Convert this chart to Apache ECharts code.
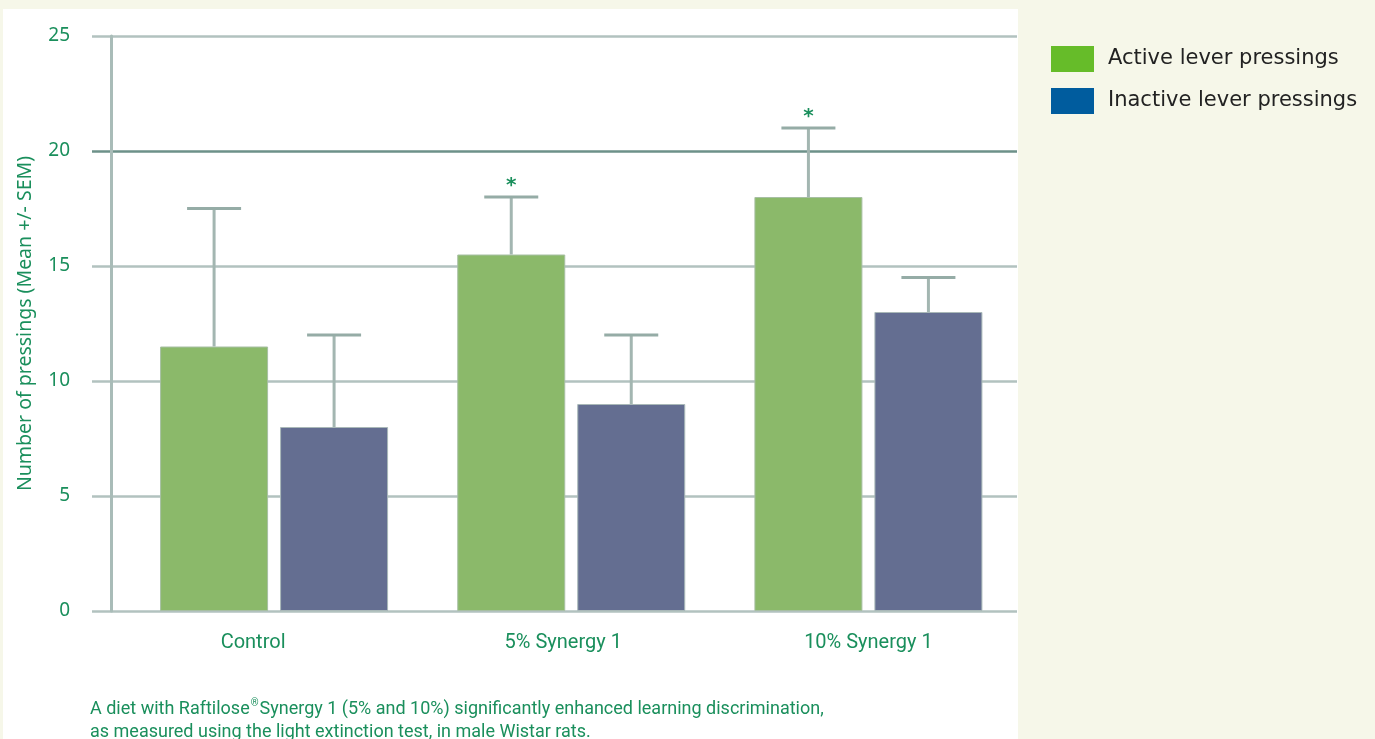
<!DOCTYPE html>
<html>
<head>
<meta charset="utf-8">
<script src="https://cdn.jsdelivr.net/npm/echarts@6/dist/echarts.min.js"></script>
<style>
html,body{margin:0;padding:0;background:#f6f7e9;}
#chart{width:1375px;height:739px;}
</style>
</head>
<body>
<div id="chart"></div>
<script>
const categories = ['Control', '5% Synergy 1', '10% Synergy 1'];
const activeMean = [11.5, 15.5, 18];
const activeUpper = [17.5, 18, 21];
const inactiveMean = [8, 9, 13];
const inactiveUpper = [12, 12, 14.5];
const activeSig = ['', '*', '*'];
const inactiveSig = ['', '', ''];
const seriesNames = ['Active lever pressings', 'Inactive lever pressings'];
const yMin = 0, yMax = 25, yInterval = 5;

const GREEN = '#1a8f5c';
const BAR_W = 108;
const BAR_GAP = 12;
const labelPad = [[0, 42, 0, 0], [0, 16, 0, 0], [0, 0, 0, 0]];

const chart = echarts.init(document.getElementById('chart'));

function errData(means, uppers, sig) {
  return means.map((m, i) => [i, m, uppers[i], sig[i]]);
}
function errSeries(data, side) {
  return {
    type: 'custom', xAxisIndex: 0, yAxisIndex: 0, z: 5, silent: true,
    data: data,
    renderItem: function (params, api) {
      const off = side * (BAR_W / 2 + BAR_GAP / 2);
      const base = api.coord([api.value(0), api.value(1)]);
      const top = api.coord([api.value(0), api.value(2)]);
      const x = base[0] + off;
      const cap = BAR_W / 4;
      const children = [
        {type: 'line', shape: {x1: x, y1: base[1], x2: x, y2: top[1]}, style: {stroke: '#a3b6b1', lineWidth: 3}},
        {type: 'line', shape: {x1: x - cap, y1: top[1], x2: x + cap, y2: top[1]}, style: {stroke: '#95aca6', lineWidth: 3}}
      ];
      const s = data[params.dataIndex][3];
      if (s) {
        children.push({type: 'text', style: {text: s, x: x, y: top[1] - 1, align: 'center', verticalAlign: 'bottom',
          fill: GREEN, font: 'bold 20px "DejaVu Sans", sans-serif'}});
      }
      return {type: 'group', children: children};
    }
  };
}

const option = {
  backgroundColor: '#f6f7e9',
  animation: false,
  graphic: [
    {type: 'rect', z: -10, shape: {x: 3, y: 9, width: 1015, height: 730}, style: {fill: '#ffffff'}},
    {type: 'text', left: 90, top: 698, z: 10,
      style: {
        text: 'A diet with Raftilose{sup|®}Synergy 1 (5% and 10%) significantly enhanced learning discrimination,\nas measured using the light extinction test, in male Wistar rats.',
        fill: GREEN, font: '18px "Roboto", sans-serif', lineHeight: 23,
        rich: {sup: {fontSize: 10, verticalAlign: 'top', padding: [0, 1, 6, 1], fill: GREEN, fontFamily: 'Roboto, sans-serif'}}
      }}
  ],
  legend: {
    orient: 'vertical', left: 1046, top: 41, itemWidth: 43, itemHeight: 26, itemGap: 16,
    icon: 'rect',
    itemStyle: {borderWidth: 0},
    textStyle: {color: '#222', fontSize: 21, fontFamily: '"DejaVu Sans", sans-serif', padding: [0, 0, 0, 9]},
    data: [
      {name: seriesNames[0], itemStyle: {color: '#66bc29', borderWidth: 0}},
      {name: seriesNames[1], itemStyle: {color: '#005c9e', borderWidth: 0}}
    ]
  },
  grid: [
    {left: 125.5, right: 358, top: 36, bottom: 128},
    {left: 92, right: 358, top: 36, bottom: 128}
  ],
  xAxis: [
    {type: 'category', gridIndex: 0, data: categories.map((c, i) => ({value: c, textStyle: {padding: labelPad[i]}})),
      axisLine: {show: false}, axisTick: {show: false},
      axisLabel: {color: GREEN, fontSize: 20, margin: 22, fontFamily: '"Roboto", sans-serif'}},
    {type: 'category', gridIndex: 1, data: categories, show: false}
  ],
  yAxis: [
    {type: 'value', gridIndex: 0, min: yMin, max: yMax, interval: yInterval, offset: 14.5,
      name: 'Number of pressings (Mean +/- SEM)', nameLocation: 'middle', nameGap: 76, nameRotate: 90,
      nameTextStyle: {color: GREEN, fontSize: 19.5, fontFamily: '"Noto Sans", sans-serif'},
      axisLine: {show: true, lineStyle: {color: '#a9bcb8', width: 3}}, axisTick: {show: false},
      axisLabel: {color: GREEN, fontSize: 19, margin: 41, fontFamily: '"Noto Sans", sans-serif'},
      splitLine: {show: false}},
    {type: 'value', gridIndex: 1, min: yMin, max: yMax, interval: yInterval,
      axisLine: {show: false}, axisTick: {show: false}, axisLabel: {show: false},
      splitLine: {show: true, lineStyle: {width: 2.5, color: ['#b2c2bf', '#b2c2bf', '#b2c2bf', '#b2c2bf', '#6d9189', '#b2c2bf']}}}
  ],
  series: [
    {name: seriesNames[0], type: 'bar', xAxisIndex: 0, yAxisIndex: 0, data: activeMean, barWidth: BAR_W, barGap: (BAR_GAP / BAR_W * 100) + '%',
      itemStyle: {color: '#8bb96a', borderColor: '#a7bfa3', borderWidth: 1}, z: 3},
    {name: seriesNames[1], type: 'bar', xAxisIndex: 0, yAxisIndex: 0, data: inactiveMean, barWidth: BAR_W,
      itemStyle: {color: '#646e91', borderColor: '#a9b8b8', borderWidth: 1}, z: 3},
    errSeries(errData(activeMean, activeUpper, activeSig), -1),
    errSeries(errData(inactiveMean, inactiveUpper, inactiveSig), 1)
  ]
};
chart.setOption(option);
</script>
</body>
</html>
